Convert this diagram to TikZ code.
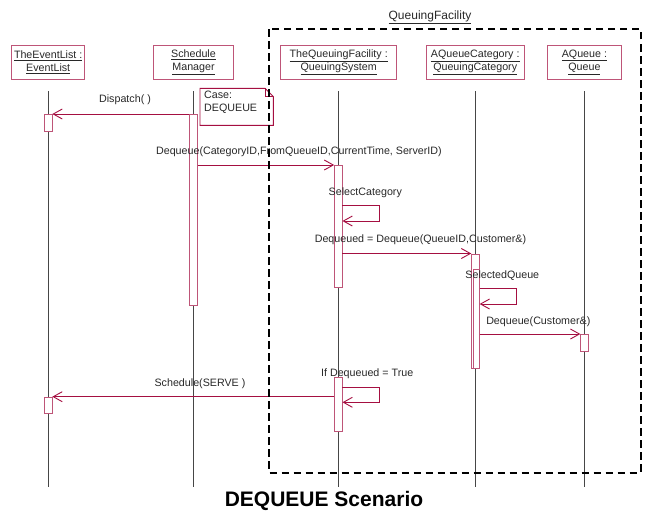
\documentclass[tikz,border=0pt]{standalone}
\usepackage{fontspec}
\setmainfont{Liberation Sans}
\usetikzlibrary{arrows.meta}
\definecolor{umlred}{RGB}{165,15,65}
\definecolor{boxred}{RGB}{190,85,120}
\definecolor{txt}{RGB}{40,40,40}
\definecolor{lifegray}{RGB}{70,70,70}
\begin{document}
\begin{tikzpicture}[x=1pt,y=-1pt,
  every node/.style={font=\fontsize{10.7}{13.3}\selectfont, text=txt},
  obj/.style={draw=boxred, line width=0.9pt, fill=white, minimum width=#1, minimum height=33.7pt, inner sep=0pt, align=center},
  act/.style={draw=boxred, line width=0.8pt, fill=white, minimum width=7.5pt, inner sep=0pt, anchor=north},
  life/.style={draw=lifegray, line width=0.9pt},
  msg/.style={draw=umlred, line width=0.9pt, -{Straight Barb[length=9pt,width=10pt]}},
  lbl/.style={inner sep=0pt},
  frame/.style={draw=black, line width=2pt, dash pattern=on 7.5pt off 4.5pt}
]
\useasboundingbox (0,0) rectangle (647,514);

% object boxes
\node[obj=73pt]  (el)  at (48.2,62.2)  {\underline{TheEventList :}\\\underline{EventList}};
\node[obj=80.4pt](sm)  at (193.5,62.2) {\underline{Schedule}\\\underline{Manager}};
\node[obj=116pt] (tqf) at (338.7,62.2) {\underline{TheQueuingFacility :}\\\underline{QueuingSystem}};
\node[obj=98.3pt](aqc) at (475.2,62.2) {\underline{AQueueCategory :}\\\underline{QueuingCategory}};
\node[obj=73.3pt](aq)  at (584.4,62.2) {\underline{AQueue :}\\\underline{Queue}};

% lifelines
\foreach \o in {el,sm,tqf,aqc,aq}{
  \coordinate (\o top) at (\o.south |- 0,91.3);
  \coordinate (\o bot) at (\o.south |- 0,486.7);
  \draw[life] (\o top) -- (\o bot);
}

% note
\draw[draw=umlred, line width=0.9pt, fill=white]
  (200,88.3) -- (265,88.3) -- (273.3,96.6) -- (273.3,125.3) -- (200,125.3) -- cycle;
\draw[draw=umlred, line width=0.9pt] (265,88.3) -- (265,96.6) -- (273.3,96.6);
\node[lbl, anchor=north west, align=left] (note) at (204,90.5) {Case:\\DEQUEUE};

% activation bars
\node[act, minimum height=17.3pt]  (el1)  at (48.2,114) {};
\node[act, minimum height=191pt]   (sm1)  at (193.6,114) {};
\node[act, minimum height=122.3pt] (tqf1) at (338.3,165) {};
\node[act, minimum height=114.5pt] (aqc1) at (475.4,253.5) {};
\node[act, minimum height=98.7pt, minimum width=6.3pt] (aqc2) at (476.1,269.3) {};
\node[act, minimum height=16.7pt]  (aq1)  at (584.5,334) {};
\node[act, minimum height=54.3pt]  (tqf2) at (338.3,376.7) {};
\node[act, minimum height=16.6pt]  (el2)  at (48.2,396.7) {};

% messages
\draw[msg] (sm1.north west) -- (el1.north east);
\node[lbl] at (125,100) {Dispatch( )};

\draw[msg] (tqf1.north west -| sm1.east) -- (tqf1.north west);
\node[lbl] at (298.9,151.7) {Dequeue(CategoryID,FromQueueID,CurrentTime, ServerID)};

\coordinate (sc1) at (tqf1.east |- 0,205.7);
\coordinate (sc2) at (tqf1.east |- 0,221);
\draw[msg] (sc1) -- (379.3,205.7) -- (379.3,221) -- (sc2);
\node[lbl] at (365.3,192.7) {SelectCategory};

\draw[msg] (aqc1.north west -| tqf1.east) -- (aqc1.north west);
\node[lbl] at (420.5,240) {Dequeued = Dequeue(QueueID,Customer\&)};

\coordinate (sq1) at (aqc2.east |- 0,288.3);
\coordinate (sq2) at (aqc2.east |- 0,304);
\draw[msg] (sq1) -- (516,288.3) -- (516,304) -- (sq2);
\node[lbl] at (502.3,275.5) {SelectedQueue};

\draw[msg] (aq1.north west -| aqc2.east) -- (aq1.north west);
\node[lbl] at (538.3,321.5) {Dequeue(Customer\&)};

\coordinate (dq1) at (tqf2.east |- 0,387.3);
\coordinate (dq2) at (tqf2.east |- 0,402.3);
\draw[msg] (dq1) -- (379.3,387.3) -- (379.3,402.3) -- (dq2);
\node[lbl] at (367.2,373.3) {If Dequeued = True};

\draw[msg] (el2.north east -| tqf2.west) -- (el2.north east);
\node[lbl] at (200,384) {Schedule(SERVE )};

% frame
\draw[frame] (269,29) rectangle (640.5,472.5);
\node[lbl, font=\fontsize{12}{14}\selectfont] (qf) at (430,17.3) {\underline{QueuingFacility}};

% title
\node[lbl, font=\fontsize{21}{24}\selectfont\bfseries, text=black] (title) at (324,500.5) {DEQUEUE Scenario};
\end{tikzpicture}
\end{document}
